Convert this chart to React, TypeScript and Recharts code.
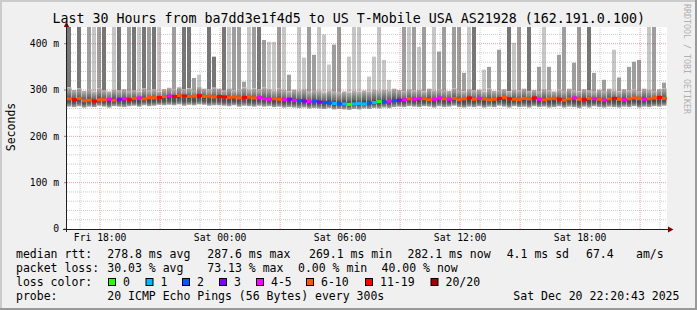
import { ComposedChart, Bar, Scatter, XAxis, YAxis, ReferenceLine, Cell } from "recharts";

// 120 slots of 15 minutes, Fri 16:20:43 -> Sat 22:20:43
const median = [
  281, 279, 282, 277, 278, 276, 279, 279, 280, 278,
  280, 281, 279, 282, 283, 281, 284, 283, 284, 286,
  287, 286, 288, 287, 286, 287, 288, 286, 287, 285,
  286, 285, 284, 285, 283, 284, 285, 283, 284, 281,
  280, 281, 280, 279, 280, 278, 277, 276, 275, 276,
  274, 273, 272, 271, 270, 270, 269, 270, 271, 270,
  272, 273, 275, 274, 276, 277, 278, 279, 281, 280,
  282, 281, 279, 280, 283, 281, 280, 282, 279, 281,
  283, 280, 282, 281, 279, 280, 282, 284, 281, 280,
  279, 282, 281, 283, 280, 279, 281, 282, 280, 278,
  281, 283, 280, 279, 282, 281, 280, 278, 281, 282,
  280, 279, 281, 283, 282, 280, 281, 283, 284, 282,
];

// lost pings bucket: 0 "0", 1 "1", 2 "2", 3 "3", 4 "4-5", 5 "6-10", 6 "11-19", 7 "20/20"
const lossIdx = [
  5, 6, 5, 5, 5, 6, 5, 5, 4, 5,
  3, 4, 6, 5, 4, 5, 5, 5, 6, 5,
  4, 6, 5, 6, 5, 5, 6, 5, 5, 5,
  6, 6, 5, 5, 5, 6, 5, 5, 4, 4,
  4, 5, 5, 4, 3, 4, 2, 3, 4, 2,
  3, 2, 2, 1, 2, 1, 0, 1, 1, 1,
  2, 1, 0, 2, 4, 2, 3, 4, 5, 4,
  4, 5, 5, 4, 4, 5, 4, 5, 5, 5,
  6, 5, 4, 5, 5, 5, 6, 5, 6, 5,
  5, 5, 5, 6, 4, 5, 5, 5, 6, 5,
  5, 4, 5, 6, 5, 4, 5, 4, 5, 6,
  5, 4, 5, 5, 5, 4, 5, 5, 6, 5,
];

const smokeLo = [
  264, 263, 265, 262, 264, 263, 266, 264, 262, 265,
  264, 263, 265, 266, 264, 267, 265, 266, 268, 267,
  268, 267, 269, 266, 268, 267, 269, 268, 266, 267,
  267, 266, 265, 267, 264, 266, 265, 264, 266, 264,
  265, 263, 264, 262, 263, 262, 261, 262, 260, 261,
  260, 259, 261, 258, 259, 258, 257, 259, 258, 260,
  259, 261, 260, 262, 261, 263, 264, 263, 265, 264,
  263, 265, 264, 262, 265, 263, 264, 266, 263, 262,
  264, 263, 265, 262, 264, 263, 266, 264, 262, 265,
  263, 264, 262, 265, 263, 264, 262, 263, 265, 262,
  264, 263, 261, 264, 262, 265, 263, 262, 264, 263,
  262, 264, 263, 265, 262, 264, 263, 265, 264, 266,
];

const smokeHi = [
  306, 300, 304, 298, 302, 296, 303, 300, 297, 301,
  299, 302, 298, 300, 296, 303, 299, 301, 297, 302,
  305, 301, 306, 302, 304, 300, 307, 303, 301, 305,
  303, 300, 304, 299, 302, 306, 300, 303, 301, 305,
  302, 298, 303, 300, 297, 301, 299, 302, 296, 300,
  298, 295, 299, 296, 294, 297, 295, 298, 296, 299,
  297, 300, 298, 301, 299, 303, 300, 298, 302, 299,
  301, 297, 303, 299, 302, 300, 298, 304, 300, 297,
  302, 299, 301, 296, 303, 298, 300, 302, 297, 301,
  299, 303, 298, 300, 296, 302, 299, 297, 301, 298,
  303, 299, 297, 302, 300, 296, 301, 298, 303, 299,
  297, 302, 299, 301, 296, 303, 300, 298, 302, 304,
];

// highest ping of the slot (0 = none above the smoke band), 436 = off the top
const spikeTop = [
  436, 0, 436, 0, 436, 436, 436, 436, 0, 436,
  436, 0, 436, 436, 436, 436, 436, 436, 436, 0,
  0, 436, 0, 436, 436, 326, 333, 0, 436, 372,
  0, 436, 436, 436, 436, 318, 436, 436, 436, 408,
  404, 404, 436, 436, 333, 0, 436, 370, 436, 376,
  436, 420, 355, 398, 436, 0, 372, 436, 436, 0,
  329, 372, 436, 365, 322, 0, 0, 436, 436, 436,
  393, 436, 0, 436, 383, 436, 0, 436, 436, 337,
  436, 436, 0, 344, 350, 0, 387, 0, 436, 402,
  436, 0, 436, 0, 350, 436, 350, 0, 376, 436,
  0, 359, 436, 0, 436, 337, 0, 322, 0, 387,
  327, 0, 350, 361, 365, 0, 436, 436, 0, 316,
];

// how many pings make up the spike: 1 few, 2 some, 3 many
const spikeShade = [
  3, 0, 3, 0, 2, 1, 2, 3, 0, 1,
  3, 0, 2, 3, 1, 3, 2, 3, 1, 0,
  0, 2, 0, 3, 3, 2, 1, 0, 3, 3,
  0, 3, 1, 2, 2, 2, 1, 2, 3, 2,
  1, 1, 2, 1, 2, 0, 1, 1, 2, 2,
  1, 1, 1, 2, 2, 0, 1, 1, 1, 0,
  1, 1, 1, 1, 1, 0, 0, 2, 1, 2,
  1, 2, 0, 1, 2, 2, 0, 2, 2, 2,
  1, 3, 0, 1, 2, 0, 2, 0, 3, 1,
  2, 0, 3, 0, 2, 1, 2, 0, 2, 2,
  0, 2, 2, 0, 3, 2, 0, 2, 0, 1,
  2, 0, 2, 2, 2, 0, 1, 2, 0, 2,
];

const lossColors = ["#26ff00", "#00b8ff", "#0059ff", "#7e00ff", "#ff00ff", "#ff5500", "#ff0000", "#a00000"];
const lossLabels = ["0", "1", "2", "3", "4-5", "6-10", "11-19", "20/20"];
const shadeColors = ["transparent", "#c6c6c6", "#9e9e9e", "#767676"];

const yTicks = [0, 100, 200, 300, 400];
const yMinor = [20, 40, 60, 80, 120, 140, 160, 180, 220, 240, 260, 280, 320, 340, 360, 380, 420];
const yMajor = [100, 200, 300, 400];

// hours since Fri 16:20:43
const timeTicks = [1.6548, 7.6548, 13.6548, 19.6548, 25.6548];
const timeLabels = ["Fri 18:00", "Sat 00:00", "Sat 06:00", "Sat 12:00", "Sat 18:00"];
const hourLines = Array.from({ length: 30 }, (_, k) => 0.6548 + k);
const majorLines = hourLines.filter((_, k) => (17 + k) % 3 === 0);
const minorLines = hourLines.filter((_, k) => (17 + k) % 3 !== 0);

const rttLine: [string, number][] = [
  ["median rtt:", 16], ["278.8 ms avg", 107.3], ["287.6 ms max", 207.3], ["269.1 ms min", 309],
  ["282.1 ms now", 407.5], ["4.1 ms sd", 506.7], ["67.4", 586], ["am/s", 636],
];
const lossLine: [string, number][] = [
  ["packet loss:", 16], ["30.03 % avg", 107.3], ["73.13 % max", 207.3], ["0.00 % min", 298], ["40.00 % now", 381.5],
];
const boxX = [108, 145.5, 182, 219, 256, 306, 365, 430.5];

const FONT = '"DejaVu Sans Mono", monospace';

const data = median.map((m, i) => ({
  t: (i + 0.5) * 0.25,
  base: smokeLo[i],
  band: smokeHi[i] - smokeLo[i],
  spBase: smokeHi[i],
  spike: spikeTop[i] ? spikeTop[i] - smokeHi[i] : 0,
  median: m,
  loss: lossIdx[i],
  shade: spikeShade[i],
}));

const MedianMark = (props: any) => {
  const { cx, cy, payload } = props;
  if (cx == null || cy == null) return null;
  return <rect x={cx - 2.5} y={cy - 1.5} width={5} height={3} fill={lossColors[payload.loss]} />;
};

export default function App() {
  return (
    <div style={{ position: "absolute", left: 0, top: 0, width: 697, height: 310, background: "#f0f0f0", overflow: "hidden" }}>
      <div style={{ position: "absolute", left: 67, top: 27, width: 600, height: 202, background: "#ffffff" }} />
      <div style={{ position: "absolute", left: 0, top: 0 }}>
        <ComposedChart
          width={697}
          height={310}
          data={data}
          margin={{ top: 27, right: 30, bottom: 61, left: 17 }}
          barGap={0}
        >
          <defs>
            <linearGradient id="smoke" x1="0" y1="0" x2="0" y2="1">
              <stop offset="0" stopColor="#b4b4b4" />
              <stop offset="0.45" stopColor="#6a6a6a" />
              <stop offset="0.62" stopColor="#474747" />
              <stop offset="0.8" stopColor="#606060" />
              <stop offset="1" stopColor="#a9a9a9" />
            </linearGradient>
          </defs>
          <XAxis
            dataKey="t"
            type="number"
            domain={[0, 30]}
            ticks={timeTicks}
            tickFormatter={(v: number) => timeLabels[timeTicks.indexOf(v)] ?? ""}
            axisLine={false}
            tickLine={false}
            tickSize={3}
            tickMargin={2}
            height={20}
            tick={{ fontSize: 9.7, fontFamily: FONT, fill: "#000" }}
            allowDataOverflow
          />
          <XAxis xAxisId="sp" dataKey="t" type="number" domain={[0, 30]} hide allowDataOverflow />
          <YAxis
            type="number"
            domain={[0, 436]}
            ticks={yTicks}
            tickFormatter={(v: number) => (v === 0 ? "0" : `${v} m`)}
            axisLine={false}
            tickLine={{ stroke: "#821e1e", strokeOpacity: 0.6 }}
            tickSize={3}
            tickMargin={5}
            width={50}
            tick={{ fontSize: 9.7, fontFamily: FONT, fill: "#000" }}
            allowDataOverflow
          />
          {yMinor.map((v) => (
            <ReferenceLine key={`ym${v}`} y={v} stroke="#8c8c8c" strokeOpacity={0.45} strokeDasharray="1 1" />
          ))}
          {minorLines.map((v) => (
            <ReferenceLine key={`xm${v}`} x={v} stroke="#8c8c8c" strokeOpacity={0.45} strokeDasharray="1 1" />
          ))}
          {yMajor.map((v) => (
            <ReferenceLine key={`yM${v}`} y={v} stroke="#c83232" strokeOpacity={0.45} strokeDasharray="1 1" />
          ))}
          {majorLines.map((v) => (
            <ReferenceLine key={`xM${v}`} x={v} stroke="#c83232" strokeOpacity={0.45} strokeDasharray="1 1" />
          ))}
          <Bar xAxisId="sp" dataKey="spBase" stackId="p" barSize={4} fill="transparent" isAnimationActive={false} />
          <Bar xAxisId="sp" dataKey="spike" stackId="p" barSize={4} isAnimationActive={false}>
            {data.map((d, i) => (
              <Cell key={`c${i}`} fill={shadeColors[d.shade]} />
            ))}
          </Bar>
          <Bar dataKey="base" stackId="s" barSize={5} fill="transparent" isAnimationActive={false} />
          <Bar dataKey="band" stackId="s" barSize={5} fill="url(#smoke)" isAnimationActive={false} />
          <Scatter dataKey="median" shape={MedianMark} isAnimationActive={false} />
        </ComposedChart>
      </div>
      <svg width={697} height={310} style={{ position: "absolute", left: 0, top: 0, pointerEvents: "none" }}>
        <rect x={0} y={0} width={697} height={2} fill="#cbcbcb" />
        <rect x={0} y={0} width={2} height={310} fill="#cbcbcb" />
        <rect x={695} y={0} width={2} height={310} fill="#999999" />
        <rect x={0} y={308} width={697} height={2} fill="#999999" />

        <text x={52.5} y={23} fontFamily={FONT} fontSize={13.3} fill="#000">
          Last 30 Hours from ba7dd3e1f4d5 to US T-Mobile USA AS21928 (162.191.0.100)
        </text>
        <text x={684} y={4} fontFamily={FONT} fontSize={8.3} fill="#b0b0b0" transform="rotate(90 684 4)">
          RRDTOOL / TOBI OETIKER
        </text>
        <text x={15} y={127} fontFamily={FONT} fontSize={11.5} fill="#000" textAnchor="middle" transform="rotate(-90 15 127)">
          Seconds
        </text>

        <line x1={66.5} y1={25} x2={66.5} y2={232} stroke="#202020" strokeWidth={1} />
        <line x1={63} y1={229.5} x2={669} y2={229.5} stroke="#202020" strokeWidth={1} />
        <polygon points="63.8,27 69.2,27 66.5,21.5" fill="#7f0000" />
        <polygon points="668,226.5 668,232.5 673.5,229.5" fill="#7f0000" />

        {rttLine.map(([s, x]) => (
          <text key={s} x={x} y={258} fontFamily={FONT} fontSize={11.5} fill="#000">{s}</text>
        ))}
        {lossLine.map(([s, x]) => (
          <text key={s} x={x} y={272} fontFamily={FONT} fontSize={11.5} fill="#000">{s}</text>
        ))}
        <text x={16} y={286} fontFamily={FONT} fontSize={11.5} fill="#000">loss color:</text>
        {lossLabels.map((l, i) => (
          <g key={l}>
            <rect x={boxX[i] + 0.5} y={278.5} width={7} height={7} fill={lossColors[i]} stroke="#000" strokeWidth={1} />
            <text x={boxX[i] + 15} y={286} fontFamily={FONT} fontSize={11.5} fill="#000">{l}</text>
          </g>
        ))}
        <text x={16} y={300} fontFamily={FONT} fontSize={11.5} fill="#000">probe:</text>
        <text x={107.3} y={300} fontFamily={FONT} fontSize={11.5} fill="#000">20 ICMP Echo Pings (56 Bytes) every 300s</text>
        <text x={513.3} y={300} fontFamily={FONT} fontSize={11.5} fill="#000">Sat Dec 20 22:20:43 2025</text>
      </svg>
    </div>
  );
}
